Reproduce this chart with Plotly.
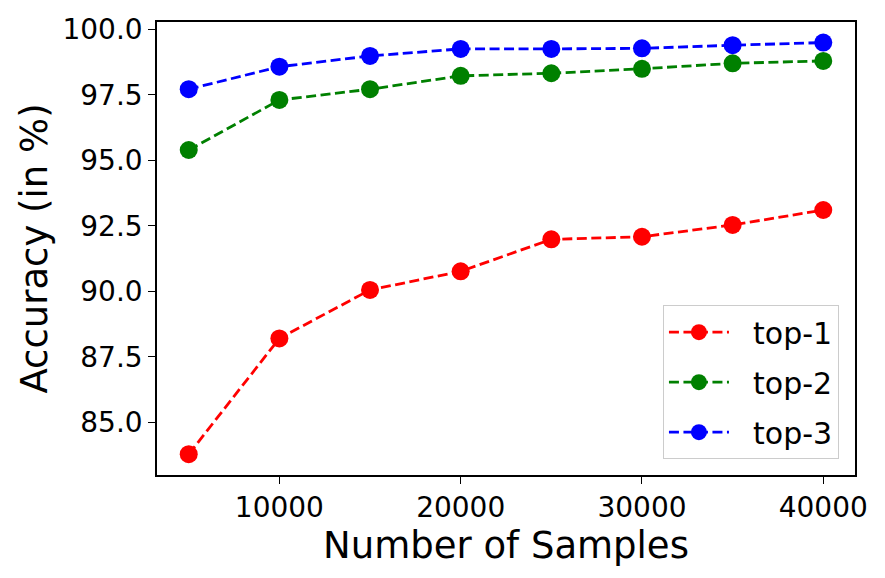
import plotly.graph_objects as go

samples = [5000, 10000, 15000, 20000, 25000, 30000, 35000, 40000]
top1 = [83.79, 88.21, 90.06, 90.77, 91.99, 92.09, 92.54, 93.11]
top2 = [95.40, 97.31, 97.72, 98.23, 98.33, 98.50, 98.71, 98.80]
top3 = [97.72, 98.58, 98.99, 99.26, 99.26, 99.28, 99.40, 99.50]
series_names = ["top-1", "top-2", "top-3"]
series_colors = ["#ff0000", "#008000", "#0000ff"]

y_ticks = [85.0, 87.5, 90.0, 92.5, 95.0, 97.5, 100.0]
y_ticktext = ["85.0", "87.5", "90.0", "92.5", "95.0", "97.5", "100.0"]
x_ticks = [10000, 20000, 30000, 40000]
x_ticktext = ["10000", "20000", "30000", "40000"]

FONT = "DejaVu Sans"

fig = go.Figure()
for name, vals, col in zip(series_names, [top1, top2, top3], series_colors):
    fig.add_trace(go.Scatter(
        x=samples, y=vals, name="\u00a0\u00a0" + name, mode="lines+markers",
        legendgroup=name,
        line=dict(color=col, width=2.8, dash="10px,4.5px"),
        marker=dict(color=col, size=18, symbol="circle"),
    ))

axis_common = dict(
    showline=True, linecolor="black", linewidth=1.5, mirror=True,
    ticks="outside", ticklen=7, tickwidth=1.4, tickcolor="black",
    showgrid=False, zeroline=False,
    tickfont=dict(family=FONT, size=28, color="black"),
)

fig.update_layout(
    width=885, height=578,
    margin=dict(l=157, r=30, t=22, b=103),
    paper_bgcolor="white", plot_bgcolor="white",
    font=dict(family=FONT, color="black"),
    xaxis=dict(range=[3250, 41750], tickvals=x_ticks, ticktext=x_ticktext,
               title=dict(text="Number of Samples", font=dict(family=FONT, size=37), standoff=7),
               **axis_common),
    yaxis=dict(range=[82.996, 100.286], tickvals=y_ticks, ticktext=y_ticktext,
               title=dict(text="Accuracy (in %)", font=dict(family=FONT, size=37), standoff=4),
               **axis_common),
    legend=dict(
        x=0.977, y=0.035, xanchor="right", yanchor="bottom",
        bgcolor="rgba(255,255,255,0.8)", bordercolor="#cccccc", borderwidth=1,
        font=dict(family=FONT, size=30, color="black"),
        itemwidth=60, tracegroupgap=8,
    ),
)

fig.write_html("out.html")
